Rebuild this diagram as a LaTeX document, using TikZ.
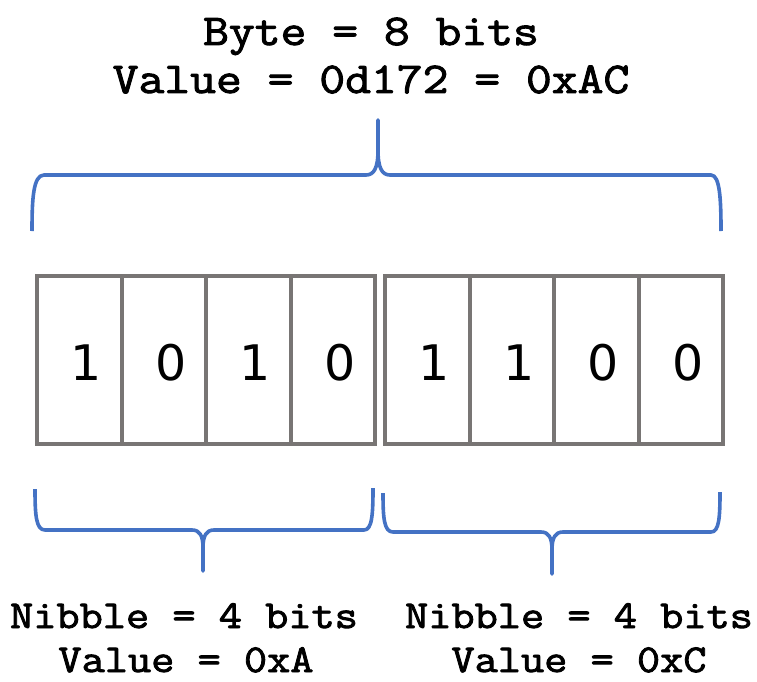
\documentclass[tikz,border=0pt]{standalone}
\usepackage{fontspec}
\newfontfamily\capfont[FakeStretch=1.14,FakeBold=2.2]{Latin Modern Mono}
\newfontfamily\digitfont{DejaVu Sans}
\definecolor{bracecol}{HTML}{4472C4}
\definecolor{cellgray}{HTML}{787574}

\begin{document}
\begin{tikzpicture}[x=1pt,y=-1pt,
  cell/.style={draw=cellgray,line width=4pt,minimum width=84.5pt,
    minimum height=167.5pt,inner sep=0pt,anchor=north west},
  digit/.style={font=\digitfont\fontsize{49}{49}\selectfont,inner sep=0pt,anchor=base},
  caption/.style={font=\capfont\fontsize{#1}{#1}\selectfont,inner sep=0pt,anchor=base},
  brace/.style={draw=bracecol,line width=3.6pt,line join=round}]
\useasboundingbox (0,0) rectangle (757,682);

% byte heading
\node[caption=44] (byte) at (371,45) {Byte = 8 bits};
\node[caption=44] (byteval) at (371,93) {Value = 0d172 = 0xAC};

% bit cells: high nibble and low nibble
\foreach \i/\x/\b in {1/35/1,2/119.5/0,3/204/1,4/288.5/0,
                      5/383/1,6/467.5/1,7/552/0,8/636.5/0}{
  \node[cell] (c\i) at (\x,274) {};
  \node[digit] (d\i) at ([xshift=7pt]c\i.center |- 0,380) {\b};
}

% brace over the whole byte
\path[brace] (32,231) .. controls (32,200) and (33,175) .. (44,175)
  -- (366,175) .. controls (374,175) and (378,168) .. (378,150) -- (378,120)
  -- (378,150) .. controls (378,168) and (382,175) .. (390,175)
  -- (711,175) .. controls (720,175) and (721,200) .. (721,231);

% brace under the high nibble
\path[brace] (35,489) .. controls (35,515) and (36,530) .. (45,530)
  -- (192,530) .. controls (200,530) and (203,536) .. (203,548) -- (203,571)
  -- (203,548) .. controls (203,536) and (206,530) .. (214,530)
  -- (364,530) .. controls (372,530) and (373,515) .. (373,488);

% brace under the low nibble
\path[brace] (383,493) .. controls (383,518) and (384,532) .. (393,532)
  -- (541,532) .. controls (549,532) and (552,538) .. (552,550) -- (552,574)
  -- (552,550) .. controls (552,538) and (555,532) .. (563,532)
  -- (711,532) .. controls (719,532) and (720,518) .. (720,492);

% nibble captions
\node[caption=39.5] (hiname) at (184,628) {Nibble = 4 bits};
\node[caption=39.5] (hival) at (186,672) {Value = 0xA};
\node[caption=39.5] (loname) at (579,628) {Nibble = 4 bits};
\node[caption=39.5] (loval) at (579,672) {Value = 0xC};
\end{tikzpicture}
\end{document}
